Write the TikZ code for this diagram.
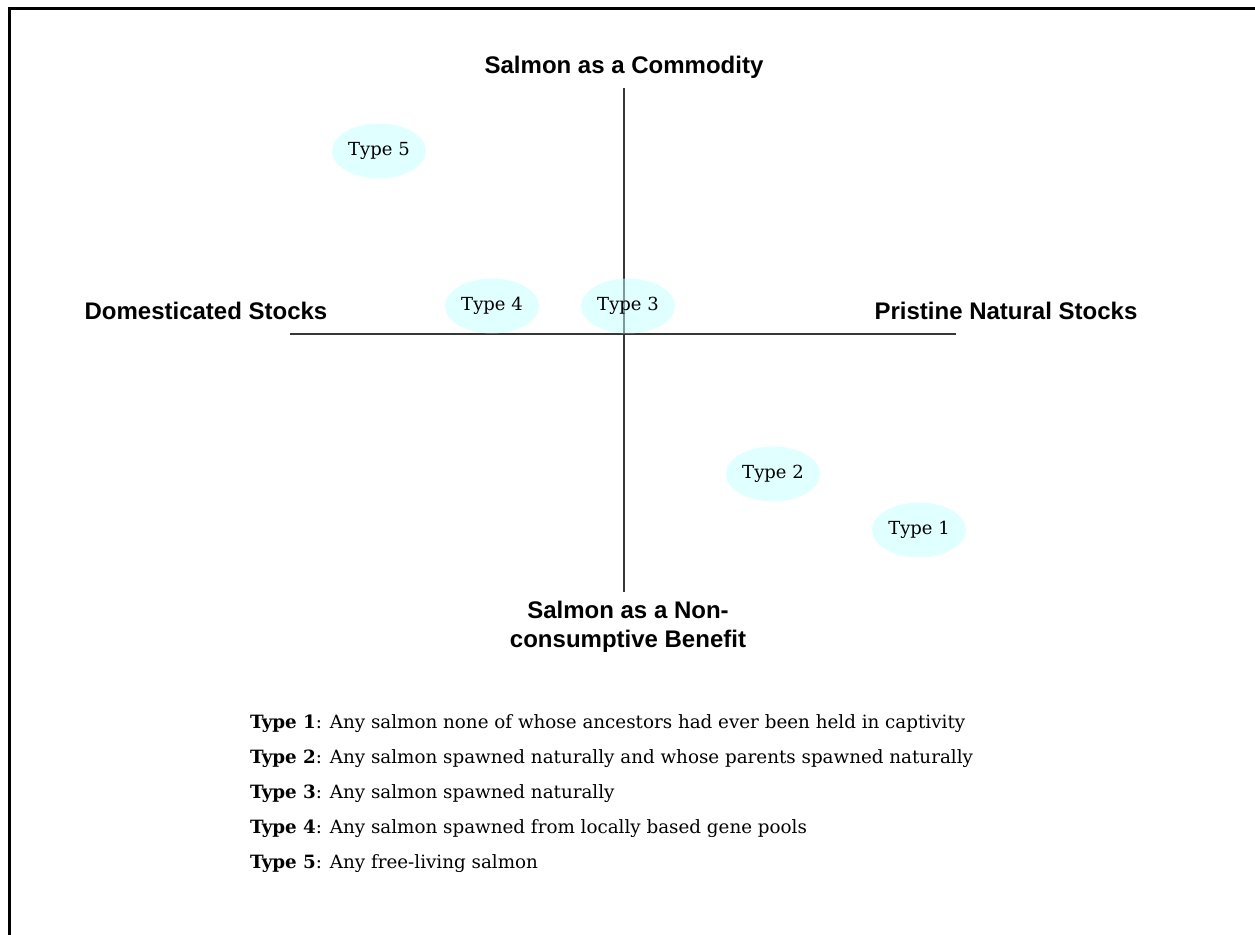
\documentclass[tikz,border=0pt]{standalone}
\usepackage{fontspec}
\setmainfont{DejaVu Serif}
\newfontfamily\axisfont{Liberation Sans}
\usetikzlibrary{shapes.geometric}
\definecolor{typefill}{RGB}{194,255,255}
\definecolor{axisgray}{RGB}{55,55,55}
\tikzset{
  axislabel/.style={font=\axisfont\bfseries\fontsize{24}{29}\selectfont,align=center},
  typeblob/.style={ellipse,fill=typefill,fill opacity=0.5,text opacity=1,
    minimum width=94pt,minimum height=55pt,inner sep=0pt,font=\fontsize{18}{20}\selectfont},
  axisline/.style={draw=axisgray,line width=1.3pt},
  keyline/.style={anchor=base west,inner sep=0pt,font=\fontsize{18.3}{22}\selectfont},
}

\begin{document}
\begin{tikzpicture}[x=1pt,y=-1pt]
  \useasboundingbox (0,0) rectangle (1255,934);
  % frame
  \draw[line width=3pt] (1270,9) -- (9,9) -- (9,950);
  % axes
  \coordinate (top) at (624,88);
  \coordinate (bottom) at (624,592);
  \coordinate (left) at (290,334);
  \coordinate (right) at (956,334);
  \draw[axisline] (top) -- (bottom);
  \draw[axisline] (left) -- (right);
  % axis labels
  \node[axislabel] (commodity) at (624,67) {Salmon as a Commodity};
  \node[axislabel] (domestic) at (206,311) {Domesticated Stocks};
  \node[axislabel] (pristine) at (1006,311) {Pristine Natural Stocks};
  \node[axislabel] (benefit) at (628,627) {Salmon as a Non-\\consumptive Benefit};
  % types
  \node[typeblob] (t5) at (379,151) {Type 5};
  \node[typeblob] (t4) at (492,306) {Type 4};
  \node[typeblob] (t3) at (628,306) {Type 3};
  \node[typeblob] (t2) at (773,474) {Type 2};
  \node[typeblob] (t1) at (919,530) {Type 1};
  % key
  \node[keyline] (k1) at (250,728) {\textbf{Type 1}: Any salmon none of whose ancestors had ever been held in captivity};
  \node[keyline] (k2) at (250,763) {\textbf{Type 2}: Any salmon spawned naturally and whose parents spawned naturally};
  \node[keyline] (k3) at (250,798) {\textbf{Type 3}: Any salmon spawned naturally};
  \node[keyline] (k4) at (250,833) {\textbf{Type 4}: Any salmon spawned from locally based gene pools};
  \node[keyline] (k5) at (250,868) {\textbf{Type 5}: Any free-living salmon};
\end{tikzpicture}
\end{document}
